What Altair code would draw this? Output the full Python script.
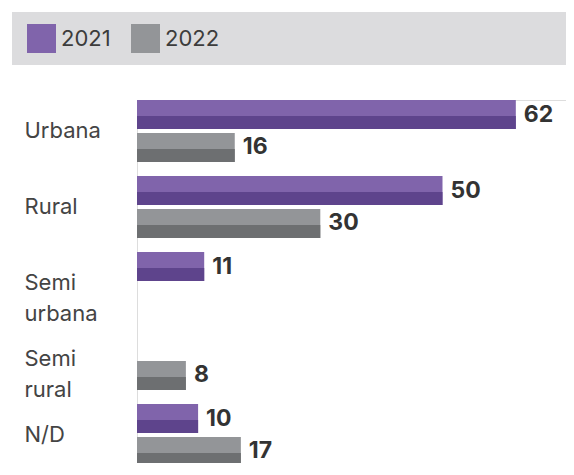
import altair as alt
import pandas as pd

categories = ["Urbana", "Rural", "Semi urbana", "Semi rural", "N/D"]
years = ["2021", "2022"]
values_2021 = [62, 50, 11, None, 10]
values_2022 = [16, 30, None, 8, 17]

light_colors = ["#8064ab", "#939598"]
dark_colors = ["#5e448c", "#6d6f71"]

rows = []
for i, c in enumerate(categories):
    for y, vals, dk in ((years[0], values_2021, dark_colors[0]), (years[1], values_2022, dark_colors[1])):
        v = vals[i]
        if v is not None:
            rows.append({"cat": c, "year": y, "value": v, "dark": dk})
df = pd.DataFrame(rows)

FONT = "Inter"
PLOT_W = 429
xscale = alt.Scale(domain=[0, 437 / 6.11], range=[0, 437], nice=False, zero=True)
yscale = alt.Scale(domain=categories, range=[0, 366], paddingInner=0.184, paddingOuter=0)
yoff = alt.YOffset("year:N", scale=alt.Scale(domain=years, paddingInner=0.12, paddingOuter=0))
yoff_dark = alt.YOffset("year:N", scale=alt.Scale(domain=years, paddingInner=0.606,
                                                  paddingOuter=0.2424, align=1))

yaxis = alt.Axis(domain=False, ticks=False, tickSize=0, grid=False,
                 labelPadding=113, labelAlign="left", labelFontSize=22,
                 labelColor="#444444", labelFont=FONT, labelLineHeight=31,
                 labelLimit=200, labelExpr="split(datum.label, ' ')")

base = alt.Chart(df)

band = alt.Chart(alt.Data(values=[{"a": 1}])).mark_rect(color="#dcdcde").encode(
    x=alt.value(-125), x2=alt.value(440), y=alt.value(-88), y2=alt.value(-35)
)

light = base.mark_bar().encode(
    x=alt.X("value:Q", scale=xscale, axis=None),
    y=alt.Y("cat:N", scale=yscale, sort=categories, title=None, axis=yaxis),
    yOffset=yoff,
    color=alt.Color("year:N", scale=alt.Scale(domain=years, range=light_colors),
                    legend=alt.Legend(orient="none", legendX=-110, legendY=-76,
                                      direction="horizontal", title=None,
                                      symbolType="square", symbolSize=841,
                                      symbolStrokeWidth=0, labelFontSize=22,
                                      labelColor="#3c3c3c", labelFont=FONT,
                                      columnPadding=20, labelOffset=5, padding=0)),
)

labels = base.mark_text(align="left", baseline="middle", dx=8, fontSize=23,
                        fontWeight="bold", color="#333333", font=FONT).encode(
    x=alt.X("value:Q", scale=xscale, axis=None),
    y=alt.Y("cat:N", scale=yscale, sort=categories, title=None, axis=yaxis),
    yOffset=yoff,
    text=alt.Text("value:Q"),
)

dark = base.mark_bar().encode(
    x=alt.X("value:Q", scale=xscale, axis=None),
    y=alt.Y("cat:N", scale=yscale, sort=categories, title=None, axis=yaxis),
    yOffset=yoff_dark,
    fill=alt.Fill("dark:N", scale=None),
)

main = alt.layer(light, labels)

chart = alt.layer(band, main, dark).resolve_scale(yOffset="independent").properties(
    width=PLOT_W, height=363,
    autosize=alt.AutoSizeParams(type="none"),
    padding={"left": 129, "top": 92, "right": 0, "bottom": 0},
).configure_view(strokeWidth=0, stroke="transparent").configure_axis(
    grid=False, domain=False).configure(font=FONT, background="white")

chart.save("out.html", embed_options={"renderer": "svg", "actions": False})
